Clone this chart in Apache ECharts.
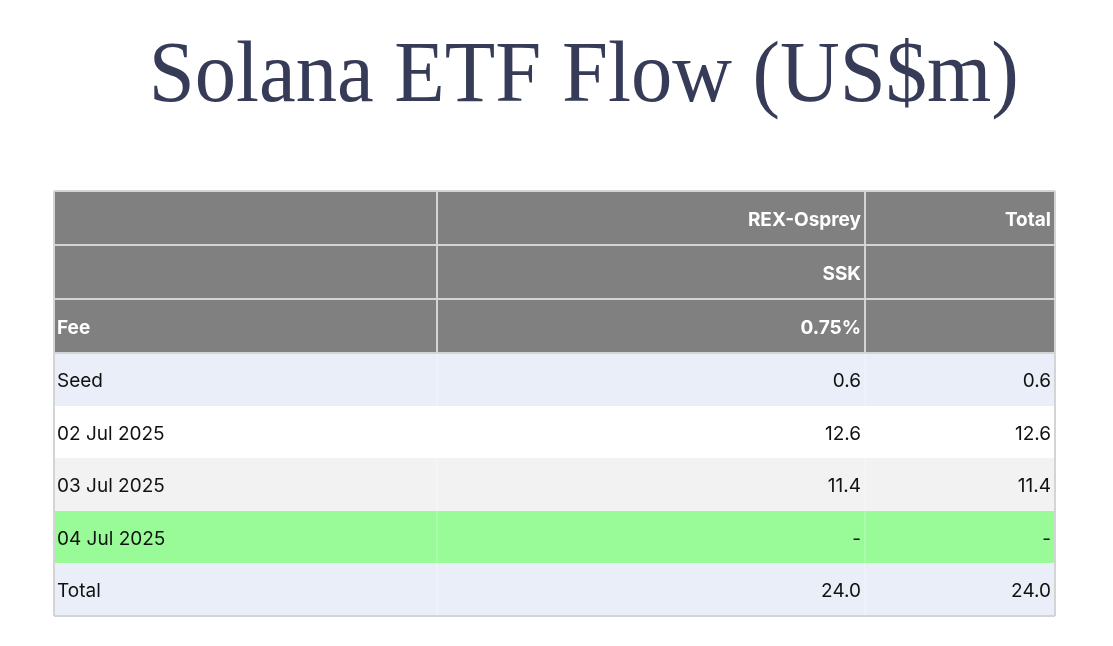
<!DOCTYPE html>
<html><head><meta charset="utf-8">
<script src="https://cdn.jsdelivr.net/npm/echarts@6/dist/echarts.min.js"></script>
<style>html,body{margin:0;padding:0;background:#fff}#c{width:1113px;height:646px}</style>
</head><body><div id="c"></div>
<script>
const title = 'Solana ETF Flow (US$m)';
const headerRows = [['', 'REX-Osprey', 'Total'], ['', 'SSK', ''], ['Fee', '0.75%', '']];
const rowLabels = ['Seed', '02 Jul 2025', '03 Jul 2025', '04 Jul 2025', 'Total'];
const osprey = ['0.6', '12.6', '11.4', '-', '24.0'];
const totals = ['0.6', '12.6', '11.4', '-', '24.0'];
const rowColors = ['#eaeef8', '#ffffff', '#f2f2f2', '#98fb98', '#eaeef8'];

const colX = [54, 437, 865, 1055];
const rowY = [191, 245, 299, 353, 406, 458, 511, 563, 616];
const els = [];
const allRows = headerRows.concat(rowLabels.map((l, i) => [l, osprey[i], totals[i]]));
allRows.forEach((r, ri) => {
  const y0 = rowY[ri], y1 = rowY[ri + 1], hdr = ri < headerRows.length;
  els.push({type:'rect', shape:{x:colX[0], y:y0, width:colX[3]-colX[0], height:y1-y0},
    style:{fill: hdr ? '#808080' : rowColors[ri - headerRows.length]}});
  r.forEach((t, ci) => {
    const left = ci === 0;
    els.push({type:'text', x: left ? colX[0] + 3 : colX[ci+1] - 4, y:(y0+y1)/2 + 2,
      style:{text:t, fill: hdr ? '#ffffff' : '#111111', font:(hdr?'bold ':'')+'19px Inter, sans-serif',
        align: left ? 'left' : 'right', verticalAlign:'middle'}});
  });
});
for (let ri = 0; ri <= headerRows.length; ri++)
  els.push({type:'line', shape:{x1:colX[0], y1:rowY[ri], x2:colX[3], y2:rowY[ri]}, style:{stroke:'#d4d4d4', lineWidth:2}});
els.push({type:'line', shape:{x1:colX[0], y1:rowY[8], x2:colX[3], y2:rowY[8]}, style:{stroke:'#d4d4d4', lineWidth:2}});
[0,3].forEach(c => els.push({type:'line', shape:{x1:colX[c], y1:rowY[0], x2:colX[c], y2:rowY[8]}, style:{stroke:'#d4d4d4', lineWidth:2}}));
[1,2].forEach(c => els.push({type:'line', shape:{x1:colX[c], y1:rowY[0], x2:colX[c], y2:rowY[3]}, style:{stroke:'#d4d4d4', lineWidth:2}}));
[1,2].forEach(c => els.push({type:'line', shape:{x1:colX[c], y1:rowY[3], x2:colX[c], y2:rowY[8]}, style:{stroke:'rgba(255,255,255,0.35)', lineWidth:1}}));
els.push({type:'text', x:556, y:78, scaleX:0.95, originX:556, originY:78,
  style:{text:title, fill:'#363b57', font:'87px "Liberation Serif", serif', align:'center', verticalAlign:'middle'}});

const chart = echarts.init(document.getElementById('c'));
chart.setOption({animation:false, graphic:{elements:els}});
</script></body></html>
